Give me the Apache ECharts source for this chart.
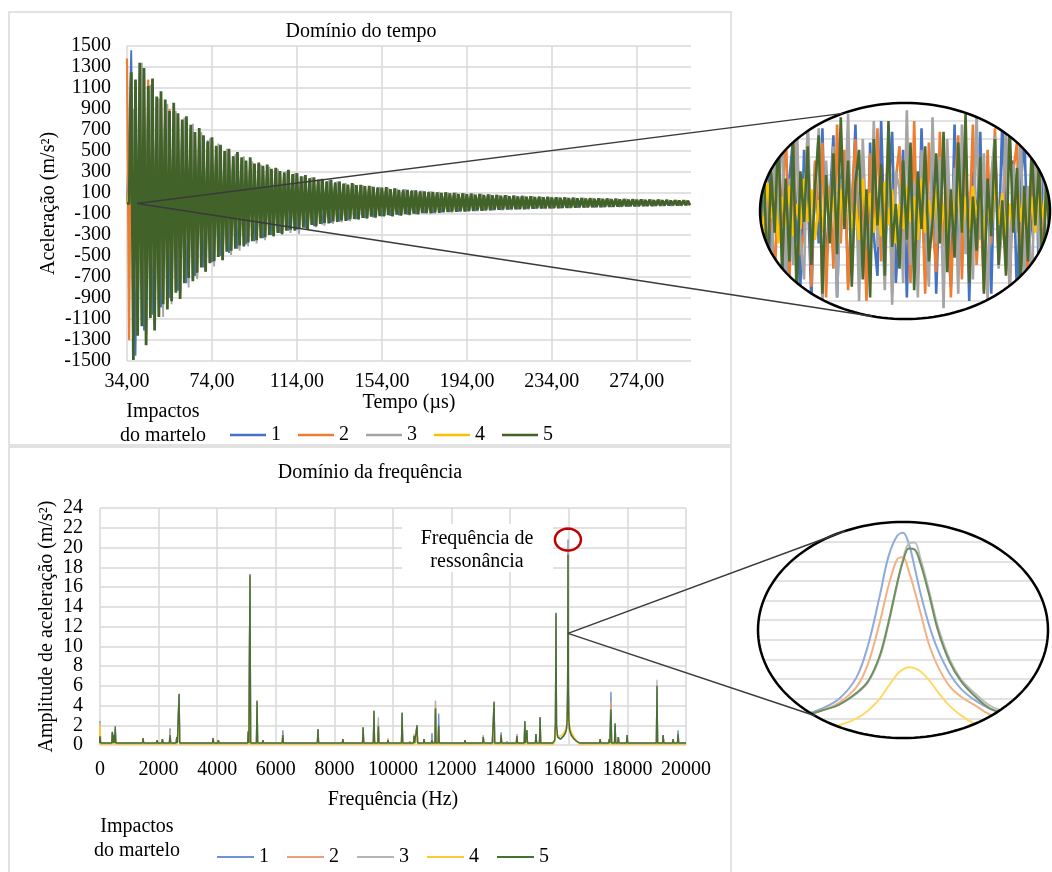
<!DOCTYPE html>
<html>
<head>
<meta charset="utf-8">
<script src="https://cdn.jsdelivr.net/npm/echarts@6/dist/echarts.min.js"></script>
<style>
html,body{margin:0;padding:0;background:#fff;}
#chart{width:1052px;height:872px;}
</style>
</head>
<body>
<div id="chart"></div>
<script>
// ---------------- DATA ----------------
const seriesNames = ['1', '2', '3', '4', '5'];
const freqTickLabels = ['0','2','4','6','8','10','12','14','16','18','20','22','24'];

const accel1StartUs = 34, accel1StepUs = 2;
const accel1 = [0,
  1460,-1450,1150,-1210,1080,-1060,1010,-990,950,-900,
  860,-830,790,-760,720,-690,650,-610,600,-560,
  540,-500,490,-470,450,-430,420,-390,390,-360,
  350,-330,340,-300,320,-280,300,-260,280,-250,
  255,-235,240,-215,228,-200,212,-185,205,-172,
  188,-160,182,-150,172,-140,164,-132,156,-122,
  150,-118,140,-112,134,-106,126,-100,120,-94,
  112,-90,108,-86,104,-82,100,-78,96,-74,
  92,-71,88,-67,84,-64,80,-61,76,-58,
  73,-55,70,-53,67,-50,64,-48,61,-46,
  59,-44,56,-42,54,-40,52,-38,50,-36,
  48,-34,46,-32,44,-31,42,-29,40,-27,
  38,-25,36,-24,34,-22,32,-20,30,-19,
  28,-17];
const accel2StartUs = 34, accel2StepUs = 1;
const accel2 = [
  1380,-1300,1100,-1180,1150,-1200,1240,-1100,1180,-1250,
  1180,-1050,1100,-1150,980,-1020,1000,-930,940,-960,
  900,-880,880,-820,820,-860,780,-720,760,-700,
  700,-720,650,-700,680,-600,620,-630,580,-560,
  600,-540,530,-500,550,-520,490,-450,500,-440,
  440,-420,470,-390,430,-390,400,-360,420,-350,
  370,-340,380,-320,350,-310,360,-290,320,-300,
  330,-270,300,-280,280,-250,310,-240,270,-250,
  280,-235,250,-220,260,-235,230,-200,240,-210,
  218,-190,228,-180,205,-185,218,-165,190,-170,
  205,-155,185,-160,175,-146,190,-145,170,-146,
  172,-134,160,-136,163,-122,154,-128,146,-117,
  148,-115,150,-109,134,-116,140,-103,128,-110,
  122,-99,126,-103,115,-94,120,-97,109,-89,
  112,-87,103,-90,107,-82,101,-85,97,-78,
  102,-80,93,-76,97,-78,89,-71,94,-74,
  86,-68,91,-70,83,-64,87,-67,79,-60,
  84,-62,76,-56,80,-59,72,-54,76,-56,
  68,-51,73,-54,65,-48,69,-52,62,-47,
  66,-48,60,-45,63,-47,57,-43,61,-45,
  54,-41,58,-43,52,-39,55,-41,50,-37,
  53,-39,48,-35,50,-37,46,-33,49,-35,
  44,-31,47,-33,42,-29,45,-31,40,-28,
  43,-29,38,-26,41,-27,36,-24,39,-25,
  34,-22,37,-23,33,-21,35,-22,31,-19,
  34,-20,30,-18,32,-18,28,-16,30,-17,
  27,-15,29,-15,25,-14];
const accel3StartUs = 35, accel3StepUs = 2;
const accel3 = [0,
  900,-1200,1340,-1250,1130,-1150,1000,-1080,950,-960,
  880,-900,820,-800,760,-720,680,-650,620,-600,
  570,-540,520,-490,470,-450,450,-410,400,-380,
  370,-350,350,-320,330,-300,310,-280,290,-290,
  260,-240,250,-225,235,-210,220,-195,210,-180,
  195,-168,185,-158,175,-148,166,-140,158,-130,
  150,-124,142,-118,136,-112,128,-106,122,-100,
  116,-95,110,-90,106,-86,102,-82,98,-78,
  94,-75,90,-71,86,-68,82,-65,78,-62,
  74,-59,71,-56,68,-53,65,-51,62,-48,
  60,-46,57,-44,55,-42,53,-40,51,-38,
  49,-36,47,-34,45,-32,43,-30,41,-28,
  39,-27,37,-25,35,-23,33,-21,31,-20,
  29,-18];
const accel4StartUs = 34, accel4StepUs = 3;
const accel4 = [
  0,420,-450,410,-370,350,-340,320,-285,270,
  -250,235,-210,200,-190,170,-160,155,-135,132,
  -126,115,-110,106,-96,93,-90,82,-80,77,
  -72,68,-67,62,-60,58,-54,53,-51,47,
  -46,45,-41,41,-40,37,-36,35,-33,33,
  -32,30,-30,29,-27,27,-26,25,-25,24,
  -23,22,-22,21,-20,20,-19,18,-18,18,
  -17,16,-16,16,-15,15,-14,14,-13,13,
  -12,12,-12,11,-11,11,-10,10,-10];
const accel5StartUs = 34, accel5StepUs = 1;
const accel5 = [
  0,0,1250,-1490,1180,-1260,1340,-1170,1290,-1350,
  1120,-1090,1190,-1210,1020,-1080,1070,-960,990,-1010,
  880,-930,960,-850,860,-910,800,-760,830,-710,
  750,-740,680,-660,720,-610,650,-650,590,-570,
  630,-550,550,-510,560,-540,500,-460,520,-450,
  450,-430,490,-400,440,-410,410,-370,440,-360,
  380,-350,390,-330,360,-320,370,-300,330,-310,
  340,-280,310,-290,290,-260,320,-250,280,-260,
  290,-240,260,-230,270,-245,240,-205,250,-215,
  225,-195,235,-185,210,-190,225,-170,195,-175,
  210,-160,190,-165,180,-150,195,-148,175,-150,
  178,-138,165,-140,168,-126,158,-132,150,-120,
  152,-118,156,-112,138,-120,144,-106,131,-114,
  126,-102,130,-106,118,-97,124,-100,112,-92,
  116,-90,106,-93,110,-84,104,-88,100,-80,
  105,-83,96,-78,100,-80,92,-73,97,-76,
  89,-70,94,-72,85,-66,90,-69,81,-62,
  86,-64,78,-58,82,-61,74,-56,78,-58,
  70,-53,75,-56,67,-50,71,-54,64,-48,
  68,-50,62,-46,65,-48,59,-44,63,-46,
  56,-42,60,-44,54,-40,57,-42,51,-38,
  55,-40,49,-36,52,-38,47,-34,50,-36,
  45,-32,48,-34,43,-30,46,-32,41,-29,
  44,-30,39,-27,42,-28,37,-25,40,-26,
  35,-23,38,-24,34,-22,36,-23,32,-20,
  35,-21,31,-19,33,-19,29,-17,31,-18,
  28,-16,30,-16,26,-15];

// Zoomed window of the time signal (inset)
const zoomAccel1 = [
  150,-60,220,-180,40,240,-120,-230,90,200,
  -40,-210,170,60,-250,130,-90,230,-160,20,
  210,-240,80,150,-200,-30,240,-140,100,-220,
  190,-70,-180,250,-110,60,220,-200,-20,170,
  -240,130,40,-190,230,-80,-150,200,-230,90,
  160,-60,-210,240,-130,30,190,-250,110,-40,
  220,-170,70,-230,180,-100,250,-60,-190,140,
  -240,60,210,-120,-30,230,-200,100,170,-150];
const zoomAccel2 = [
  -90,210,-150,60,-230,180,-40,250,-190,100,
  220,-120,-60,230,-210,140,-30,190,-240,70,
  -160,240,-90,170,-220,30,200,-180,110,-250,
  160,-50,230,-140,-20,210,-230,90,180,-110,
  40,-200,250,-160,80,-230,190,-30,-170,220,
  -100,150,-240,60,210,-190,120,-60,240,-150,
  30,-220,170,-90,230,-130,-50,200,-240,110,
  190,-170,60,-210,140,-30,220,-180,90,-120];
const zoomAccel3 = [
  200,-130,60,-260,170,-40,280,-210,90,-150,
  240,-80,-190,260,-120,30,230,-270,140,-60,
  180,-240,90,-30,270,-180,120,-250,200,-70,
  -140,250,-100,40,-220,190,-260,110,60,-200,
  280,-150,80,-240,170,-40,-210,260,-90,150,
  -270,200,-60,120,-230,240,-120,30,-190,270,
  -80,160,-250,100,210,-160,-30,250,-220,130,
  -60,230,-180,70,-260,190,-110,240,-140,50];
const zoomAccel4 = [
  30,-60,80,-20,50,-90,40,-40,70,-70,
  20,-50,90,-30,60,-80,30,-60,80,-20,
  40,-90,60,-40,70,-50,20,-80,90,-30,
  50,-60,30,-70,80,-40,60,-90,20,-50,
  70,-30,40,-80,90,-60,30,-40,60,-70,
  20,-90,50,-30,80,-60,40,-50,70,-20,
  60,-80,30,-60,90,-40,50,-70,20,-50,
  80,-30,60,-90,40,-60,70,-20,50,-40];
const zoomAccel5 = [
  -80,150,-200,120,-60,230,-170,90,-140,200,
  -250,110,-30,180,-150,70,210,-230,100,-90,
  160,-120,260,-50,140,-210,80,170,-190,60,
  -240,200,-40,130,-180,250,-100,20,-160,140,
  -80,190,-220,110,-50,180,-140,-30,160,-90,
  220,-170,60,-130,190,-60,270,-200,40,-110,
  150,-230,90,-70,200,-150,30,-180,240,-60,
  120,-210,70,-140,180,-40,130,-190,90,-100];

// Frequency domain: narrow spectral peaks (Hz) and amplitudes (m/s²)
const peakHz = [0,420,480,520,1470,1950,2130,2390,2620,2700,3860,4040,5060,5120,5360,5560,5720,6240,7440,8290,8980,9350,9500,9830,10310,10580,10720,10820,11060,11330,11450,11560,12050,12460,13080,13410,13450,13690,13890,14230,14500,14570,14880,15020,17070,17380,17440,17580,17690,17990,19010,19220,19560,19730];
const peakAmp1 = [2.4,1.2,1.0,1.6,0.7,0.5,0.6,1.7,0.8,5.1,0.7,0.5,1.4,17.1,4.3,0.5,0.3,1.5,1.6,0.6,1.8,3.4,2.0,0.5,3.2,0.4,0.9,2.0,0.6,1.2,3.8,3.2,0.3,0.5,0.8,2.2,4.2,1.3,0.4,1.0,2.4,1.5,1.1,2.8,0.6,0.6,5.4,2.1,0.8,1.0,5.9,1.0,0.6,1.5];
const peakAmp2 = [1.9,1.3,1.1,1.5,0.7,0.5,0.6,1.5,0.8,5.0,0.7,0.5,1.3,17.0,4.2,0.5,0.3,1.1,1.6,0.6,1.7,3.3,2.2,0.7,3.2,0.4,1.1,1.9,0.6,0.6,4.5,2.0,0.3,0.5,0.9,0.3,4.2,1.0,0.4,1.1,2.3,1.5,1.1,2.8,0.6,0.6,4.4,2.0,0.8,1.0,6.0,1.0,0.6,1.1];
const peakAmp3 = [2.0,1.4,1.2,1.6,0.7,0.5,0.6,1.3,0.8,5.1,0.7,0.5,1.3,17.2,4.4,0.5,0.3,1.0,1.5,0.6,1.7,3.4,2.8,0.5,3.2,0.4,1.0,2.0,0.6,0.6,4.4,2.0,0.3,0.5,1.0,0.3,4.3,1.0,0.4,1.1,2.4,1.5,1.1,2.8,0.6,0.6,3.7,2.1,0.8,1.0,6.6,1.0,0.6,1.1];
const peakAmp4 = [2.2,0.7,0.6,0.9,0.4,0.3,0.3,0.8,0.5,2.9,0.4,0.3,0.8,9.5,2.5,0.3,0.2,0.6,0.9,0.3,1.0,2.0,1.2,0.3,1.8,0.2,0.6,1.2,0.3,0.4,2.2,1.2,0.2,0.3,0.5,0.2,2.4,0.6,0.2,0.6,1.4,0.8,0.6,1.6,0.3,0.3,2.0,1.2,0.4,0.6,3.4,0.6,0.3,0.6];
const peakAmp5 = [0.9,1.3,1.0,1.9,0.7,0.5,0.6,1.0,0.8,5.2,0.7,0.5,1.4,17.3,4.5,0.5,0.3,1.0,1.6,0.6,1.8,3.5,1.9,0.5,3.3,0.4,0.9,2.0,0.6,0.5,3.7,2.0,0.3,0.5,0.8,0.3,4.4,1.0,0.4,0.9,2.4,1.5,1.1,2.8,0.6,0.6,3.6,2.2,0.8,1.0,6.0,1.0,0.6,1.1];
const peakHalfWidthHz = 20;
const baselineAmp = [0.15, 0.15, 0.15, 0.06, 0.2];

// Resonance region profile (Hz, m/s²)
const resHz = [15450,15520,15545,15563,15580,15620,15720,15820,15880,15920,15945,15960,15973,15986,16000,16030,16090,16180,16280,16380];
const resAmp1 = [0.2,0.5,2.1,13.2,1.9,0.8,0.6,0.9,1.2,1.7,2.8,6.0,20.8,5.2,2.4,1.4,0.9,0.6,0.35,0.2];
const resAmp2 = [0.2,0.5,2.1,13.0,1.9,0.8,0.6,0.9,1.2,1.6,2.7,5.8,19.0,5.0,2.4,1.4,0.9,0.6,0.35,0.2];
const resAmp3 = [0.2,0.5,2.2,13.3,2.0,0.8,0.6,0.9,1.2,1.6,2.6,5.4,20.5,5.7,2.7,1.6,1.0,0.6,0.35,0.2];
const resAmp4 = [0.05,0.3,1.3,7.0,1.3,0.9,0.9,1.2,1.5,1.9,2.8,4.0,7.6,4.0,2.8,1.9,1.3,0.8,0.4,0.05];
const resAmp5 = [0.2,0.5,2.2,13.4,2.0,0.8,0.6,0.9,1.2,1.6,2.6,5.5,19.3,5.5,2.6,1.5,1.0,0.6,0.35,0.2];

// Zoom of the resonance peak (inset)
const zoomHz = [15936,15942,15948,15954,15958,15962,15965,15968,15970,15972,15974,15976,15979,15982,15986,15990,15995,16000,16006];
const zoomAmp1 = [2.4,3.0,4.0,6.2,9.5,14.5,18.5,20.6,20.9,19.8,17.4,14.8,11.5,9.0,6.6,5.0,3.8,3.0,2.4];
const zoomAmp2 = [2.3,2.8,3.6,5.2,7.6,11.8,15.5,18.2,18.4,17.0,15.0,12.8,9.5,7.3,5.3,4.2,3.3,2.4,2.2];
const zoomAmp3 = [2.3,2.8,3.4,4.5,5.7,8.2,11.6,15.6,18.2,19.8,19.9,18.3,15.0,11.4,8.1,6.0,4.5,3.3,2.6];
const zoomAmp4 = [0.4,0.8,1.3,2.0,2.8,4.0,5.3,6.5,7.0,7.2,7.1,6.8,5.9,4.7,3.3,2.3,1.4,0.8,0.4];
const zoomAmp5 = [2.3,2.8,3.4,4.6,5.8,8.4,11.8,15.8,18.0,19.3,19.2,17.8,14.6,11.0,7.8,5.8,4.2,3.0,2.4];

const resonancePeak = [15970, 20.8];      // circled value
const topZoomAnchor = [38.7, 0];          // where the time-zoom lines meet
const bottomZoomAnchor = [15973, 11.3];   // where the frequency-zoom lines meet

// ---------------- STYLE ----------------
const FONT = '"Liberation Serif", "Times New Roman", serif';
const topColors = ['#4472C4', '#ED7D31', '#A5A5A5', '#FFC000', '#41632A'];
const botColors = ['#6E93D6', '#F2A071', '#B5B5B5', '#FFC83A', '#486F34'];
const zoomBotColors = ['#8FAADC', '#F4B183', '#BDBDBD', '#FFD966', '#6E8F5E'];
const zoomTopColors = ['#4472C4', '#ED7D31', '#A5A5A5', '#FFC000', '#4B6B2E'];
const GRID = '#d9d9d9';

const timeSets = [
  [accel1StartUs, accel1StepUs, accel1],
  [accel2StartUs, accel2StepUs, accel2],
  [accel3StartUs, accel3StepUs, accel3],
  [accel4StartUs, accel4StepUs, accel4],
  [accel5StartUs, accel5StepUs, accel5]
];
const peakAmps = [peakAmp1, peakAmp2, peakAmp3, peakAmp4, peakAmp5];
const resAmps = [resAmp1, resAmp2, resAmp3, resAmp4, resAmp5];
const zoomAccels = [zoomAccel1, zoomAccel2, zoomAccel3, zoomAccel4, zoomAccel5];
const zoomAmps = [zoomAmp1, zoomAmp2, zoomAmp3, zoomAmp4, zoomAmp5];

function timeSeriesData(start, step, arr) {
  return arr.map((v, i) => [start + i * step, v]);
}
function spectrumData(k) {
  const pts = [];
  const base = baselineAmp[k];
  peakHz.forEach((f, i) => {
    pts.push([f - peakHalfWidthHz, base], [f, peakAmps[k][i]], [f + peakHalfWidthHz, base]);
  });
  resHz.forEach((f, i) => pts.push([f, resAmps[k][i]]));
  pts.push([20000, base]);
  pts.sort((a, b) => a[0] - b[0]);
  return pts;
}

const topWidths = [1.8, 2.2, 1.8, 1.6, 2.8];
const series = [];
seriesNames.forEach((name, k) => {
  const [s, st, arr] = timeSets[k];
  series.push({
    name, type: 'line', xAxisIndex: 0, yAxisIndex: 0,
    data: timeSeriesData(s, st, arr), showSymbol: false, silent: true,
    lineStyle: { width: topWidths[k], color: topColors[k] },
    itemStyle: { color: topColors[k] }
  });
});
seriesNames.forEach((name, k) => {
  series.push({
    name, type: 'line', xAxisIndex: 1, yAxisIndex: 1,
    data: spectrumData(k), showSymbol: false, silent: true,
    lineStyle: { width: 1.4, color: botColors[k] },
    itemStyle: { color: botColors[k] }
  });
});
seriesNames.forEach((name, k) => {
  series.push({
    name: 'zoomT' + name, type: 'line', xAxisIndex: 2, yAxisIndex: 2,
    data: zoomAccels[k], showSymbol: false, silent: true,
    lineStyle: { width: 2.6, color: zoomTopColors[k] }
  });
});
seriesNames.forEach((name, k) => {
  series.push({
    name: 'zoomF' + name, type: 'line', xAxisIndex: 3, yAxisIndex: 3,
    data: zoomHz.map((f, i) => [f, zoomAmps[k][i]]), showSymbol: false, silent: true,
    smooth: 0.35,
    lineStyle: { width: 2, color: zoomBotColors[k] }
  });
});

const axisLabelStyle = { fontFamily: FONT, fontSize: 20, color: '#000' };
const nameStyle = { fontFamily: FONT, fontSize: 20, color: '#000' };
const splitStyle = { show: true, lineStyle: { color: GRID, width: 1.5 } };
const plain = v => String(v);
const hidden = { axisLine: { show: false }, axisTick: { show: false }, axisLabel: { show: false } };

const chart = echarts.init(document.getElementById('chart'), null, { renderer: 'canvas' });
const option = {
  animation: false,
  backgroundColor: '#fff',
  textStyle: { fontFamily: FONT },
  grid: [
    { left: 127, top: 46, width: 564, height: 315 },
    { left: 100, top: 508, width: 586, height: 237 },
    { left: 760, top: 103, width: 290, height: 216 },
    { left: 758, top: 522, width: 290, height: 216 }
  ],
  xAxis: [
    { gridIndex: 0, type: 'value', min: 34, max: 299.5, interval: 40,
      axisLine: { show: false }, axisTick: { show: false },
      axisLabel: Object.assign({ margin: 11, showMinLabel: true, showMaxLabel: false,
        formatter: v => v.toFixed(2).replace('.', ',') }, axisLabelStyle),
      splitLine: Object.assign({ showMaxLine: false }, splitStyle),
      name: 'Tempo (µs)', nameLocation: 'middle', nameGap: 30, nameTextStyle: nameStyle },
    { gridIndex: 1, type: 'value', min: 0, max: 20000, interval: 2000,
      axisLine: { show: false }, axisTick: { show: false },
      axisLabel: Object.assign({ margin: 15, showMinLabel: true, showMaxLabel: true, formatter: plain }, axisLabelStyle),
      splitLine: splitStyle,
      name: 'Frequência (Hz)', nameLocation: 'middle', nameGap: 45, nameTextStyle: nameStyle },
    Object.assign({ gridIndex: 2, type: 'category', boundaryGap: false,
      data: zoomAccel1.map((_, i) => i), splitLine: { show: false } }, hidden),
    Object.assign({ gridIndex: 3, type: 'value', min: 15920, max: 16020,
      splitLine: { show: false } }, hidden)
  ],
  yAxis: [
    { gridIndex: 0, type: 'value', min: -1500, max: 1500, interval: 200,
      axisLine: { show: false }, axisTick: { show: false },
      axisLabel: Object.assign({ margin: 16, showMinLabel: true, showMaxLabel: true, formatter: plain }, axisLabelStyle),
      splitLine: splitStyle,
      name: 'Aceleração (m/s²)', nameLocation: 'middle', nameGap: 68, nameMoveOverlap: false,
      nameTextStyle: nameStyle },
    Object.assign({ gridIndex: 1, type: 'value', min: 0, max: 24, interval: 2, position: 'left',
      splitLine: splitStyle,
      name: 'Amplitude de aceleração (m/s²)', nameLocation: 'middle', nameGap: 43, nameMoveOverlap: false,
      nameTextStyle: nameStyle }, hidden),
    Object.assign({ gridIndex: 2, type: 'value', min: -300, max: 300, interval: 50,
      splitLine: splitStyle }, hidden),
    Object.assign({ gridIndex: 3, type: 'value', min: 0, max: 22, interval: 2,
      splitLine: splitStyle }, hidden),
    // tick labels of the amplitude axis
    { gridIndex: 1, type: 'category', position: 'left', offset: 0, boundaryGap: false, data: freqTickLabels,
      axisLine: { show: false }, axisTick: { show: false }, splitLine: { show: false },
      axisLabel: Object.assign({ margin: 17, interval: 0 }, axisLabelStyle) }
  ],
  legend: [
    { left: 225, top: 420, orient: 'horizontal', icon: 'rect', itemWidth: 36, itemHeight: 2.5,
      itemGap: 17, selectedMode: false, textStyle: { fontFamily: FONT, fontSize: 20, color: '#000' },
      data: seriesNames.map((n, k) => ({ name: n, itemStyle: { color: topColors[k] } })) },
    { left: 212, top: 842, orient: 'horizontal', icon: 'rect', itemWidth: 37, itemHeight: 2,
      itemGap: 18, selectedMode: false, textStyle: { fontFamily: FONT, fontSize: 20, color: '#000' },
      data: seriesNames.map((n, k) => ({ name: n, itemStyle: { color: botColors[k] } })) }
  ],
  series
};
chart.setOption(option);

// ---------------- ANNOTATIONS ----------------
function ellipsePts(cx, cy, rx, ry, n, reverse) {
  const pts = [];
  for (let i = 0; i <= n; i++) {
    const a = reverse ? Math.PI - (2 * Math.PI * i) / n : Math.PI + (2 * Math.PI * i) / n;
    pts.push([cx + rx * Math.cos(a), cy + ry * Math.sin(a)]);
  }
  return pts;
}
function maskPts(cx, cy, rx, ry, pad) {
  const L = cx - rx - pad, R = cx + rx + pad, T = cy - ry - pad, B = cy + ry + pad;
  return [[L, T], [R, T], [R, B], [L, B], [L, cy]].concat(ellipsePts(cx, cy, rx, ry, 160, true)).concat([[L, cy]]);
}
function onEllipse(cx, cy, rx, ry, x, below) {
  const c = (x - cx) / rx;
  const s = Math.sqrt(Math.max(0, 1 - c * c));
  return [x, cy + (below ? 1 : -1) * ry * s];
}
function txt(text, x, y, extra) {
  return Object.assign({
    type: 'text', x, y, z: 40, silent: true,
    style: { text, font: '20px ' + FONT, fill: '#000',
      textAlign: 'center', textVerticalAlign: 'middle', align: 'center', verticalAlign: 'middle' }
  }, extra || {});
}

const topE = { cx: 905, cy: 211, rx: 145, ry: 108 };
const botE = { cx: 903, cy: 630, rx: 145, ry: 108 };

const a1 = chart.convertToPixel({ xAxisIndex: 0, yAxisIndex: 0 }, topZoomAnchor);
const a2 = chart.convertToPixel({ xAxisIndex: 1, yAxisIndex: 1 }, bottomZoomAnchor);
const rp = chart.convertToPixel({ xAxisIndex: 1, yAxisIndex: 1 }, resonancePeak);

const tU = onEllipse(topE.cx, topE.cy, topE.rx, topE.ry, 843, false);
const tL = onEllipse(topE.cx, topE.cy, topE.rx, topE.ry, 872, true);
const bU = onEllipse(botE.cx, botE.cy, botE.rx, botE.ry, 845, false);
const bL = onEllipse(botE.cx, botE.cy, botE.rx, botE.ry, 815, true);

const connStyle = { stroke: '#3a3a3a', lineWidth: 1.5 };
const graphic = [
  { type: 'rect', z: 1, silent: true, shape: { x: 9, y: 12, width: 722, height: 433 },
    style: { fill: null, stroke: GRID, lineWidth: 1.5 } },
  { type: 'rect', z: 1, silent: true, shape: { x: 9, y: 447, width: 722, height: 430 },
    style: { fill: null, stroke: GRID, lineWidth: 1.5 } },
  txt('Domínio do tempo', 361, 32),
  txt('Domínio da frequência', 370, 473),
  txt('Impactos', 163, 412),
  txt('do martelo', 163, 436),
  txt('Impactos', 137, 827),
  txt('do martelo', 137, 851),
  { type: 'rect', z: 5, silent: true, shape: { x: 402, y: 524, width: 151, height: 48 },
    style: { fill: '#fff', stroke: null } },
  txt('Frequência de', 477, 539),
  txt('ressonância', 477, 562),
  { type: 'polygon', z: 45, silent: true,
    shape: { points: ellipsePts(rp[0], rp[1], 13, 11, 60, false) },
    style: { fill: null, stroke: '#C00000', lineWidth: 2.5 } },
  { type: 'polygon', z: 50, silent: true,
    shape: { points: maskPts(topE.cx, topE.cy, topE.rx, topE.ry, 5) },
    style: { fill: '#fff', stroke: null } },
  { type: 'polygon', z: 50, silent: true,
    shape: { points: maskPts(botE.cx, botE.cy, botE.rx, botE.ry, 5) },
    style: { fill: '#fff', stroke: null } },
  { type: 'polygon', z: 60, silent: true,
    shape: { points: ellipsePts(topE.cx, topE.cy, topE.rx, topE.ry, 160, false) },
    style: { fill: null, stroke: '#000', lineWidth: 2.5 } },
  { type: 'polygon', z: 60, silent: true,
    shape: { points: ellipsePts(botE.cx, botE.cy, botE.rx, botE.ry, 160, false) },
    style: { fill: null, stroke: '#000', lineWidth: 2.5 } },
  { type: 'line', z: 60, silent: true, shape: { x1: a1[0], y1: a1[1], x2: tU[0], y2: tU[1] }, style: connStyle },
  { type: 'line', z: 60, silent: true, shape: { x1: a1[0], y1: a1[1], x2: tL[0], y2: tL[1] }, style: connStyle },
  { type: 'line', z: 60, silent: true, shape: { x1: a2[0], y1: a2[1], x2: bU[0], y2: bU[1] }, style: connStyle },
  { type: 'line', z: 60, silent: true, shape: { x1: a2[0], y1: a2[1], x2: bL[0], y2: bL[1] }, style: connStyle }
];
chart.setOption({ graphic });
</script>
</body>
</html>
